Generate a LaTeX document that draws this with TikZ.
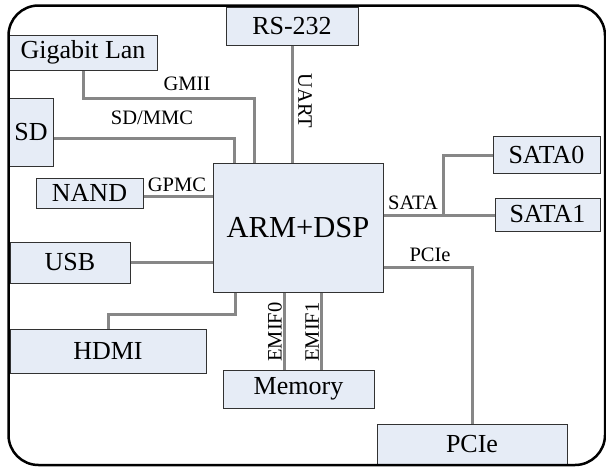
\documentclass[tikz,border=0pt]{standalone}
\usepackage{fontspec}
\setmainfont{Liberation Serif}
\definecolor{boxfill}{RGB}{230,236,246}
\definecolor{boxline}{RGB}{50,50,50}
\definecolor{connline}{RGB}{135,135,135}
\tikzset{
  box/.style={draw=boxline, fill=boxfill, line width=1pt, inner sep=0pt,
    font=\fontsize{26}{30}\selectfont},
  bigbox/.style={box, font=\fontsize{30.5}{34}\selectfont},
  conn/.style={draw=connline, line width=3pt},
  lbl/.style={inner sep=0pt, font=\fontsize{20.5}{24}\selectfont},
  frame/.style={draw=black, line width=2.5pt, rounded corners=30pt}
}
\begin{document}
\begin{tikzpicture}[x=1pt,y=-1pt]
\useasboundingbox (0,0) rectangle (606,467);
% boxes
\node[box, minimum width=132pt, minimum height=38pt] (rs) at (292,26) {RS-232};
\node[box, minimum width=148pt, minimum height=35pt] (gig) at (83,52.5) {Gigabit Lan};
\node[box, minimum width=44pt, minimum height=68pt] (sd) at (31,132) {SD};
\node[box, minimum width=107pt, minimum height=30pt] (nand) at (89.5,193) {NAND};
\node[box, minimum width=120pt, minimum height=41pt] (usb) at (70,262.5) {USB};
\node[bigbox, minimum width=170pt, minimum height=129pt] (arm) at (298,227.5) {ARM+DSP};
\node[box, minimum width=196pt, minimum height=44pt] (hdmi) at (108,351) {HDMI};
\node[box, minimum width=151pt, minimum height=38pt] (mem) at (298.5,389) {Memory};
\node[box, minimum width=190pt, minimum height=41pt] (pcie) at (472,444.5) {PCIe};
\node[box, minimum width=107pt, minimum height=37pt] (sata0) at (546.5,154.5) {SATA0};
\node[box, minimum width=105pt, minimum height=33pt] (sata1) at (547.5,214.5) {SATA1};
% helper coordinates
\coordinate (g1) at (83,98);
\coordinate (g2) at (254,98);
\coordinate (s1) at (234,138);
\coordinate (u1) at (292,0);
\coordinate (gp) at (0,196);
\coordinate (sa) at (443,215);
\coordinate (sb) at (443,155);
\coordinate (p1) at (472,267);
\coordinate (h1) at (235,314);
\coordinate (h2) at (108,314);
\coordinate (e0) at (284,0);
\coordinate (e1) at (321,0);
% connectors
\draw[conn] (gig.south -| g1) -- (g1) -- (g2) -- (arm.north -| g2);
\draw[conn] (sd.east |- s1) -- (s1) -- (arm.north -| s1);
\draw[conn] (rs.south -| u1) -- (arm.north -| u1);
\draw[conn] (nand.east |- gp) -- (arm.west |- gp);
\draw[conn] (usb.east) -- (usb.east -| arm.west);
\draw[conn] (arm.east |- sa) -- (sata1.west |- sa);
\draw[conn] (sa) -- (sb) -- (sata0.west |- sb);
\draw[conn] (arm.east |- p1) -- (p1) -- (pcie.north -| p1);
\draw[conn] (arm.south -| h1) -- (h1) -- (h2) -- (hdmi.north -| h2);
\draw[conn] (arm.south -| e0) -- (mem.north -| e0);
\draw[conn] (arm.south -| e1) -- (mem.north -| e1);
% labels
\node[lbl] (lgmii) at (187,84) {GMII};
\node[lbl] (lsd) at (152,118) {SD/MMC};
\node[lbl, rotate=-90] (luart) at (305,101) {UART};
\node[lbl] (lgpmc) at (177,185) {GPMC};
\node[lbl] (lsata) at (413,203) {SATA};
\node[lbl] (lpcie) at (430,255) {PCIe};
\node[lbl, rotate=90] (le0) at (275,332) {EMIF0};
\node[lbl, rotate=90] (le1) at (312,332) {EMIF1};
% frame
\draw[frame] (8.5,5.5) rectangle (605,465);
\end{tikzpicture}
\end{document}
